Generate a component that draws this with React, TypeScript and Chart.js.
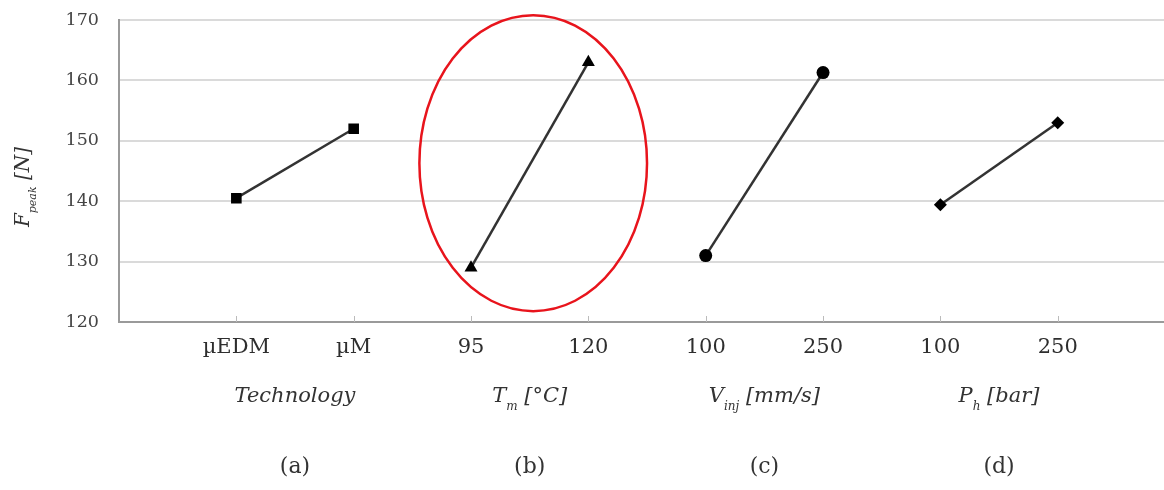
import React, { useEffect, useRef } from 'react';
import { Chart, registerables } from 'chart.js';
Chart.register(...registerables);

// ---- data ----
const tickLabels = ['µEDM', 'µM', '95', '120', '100', '250', '100', '250'];
const tickPositions = [1, 2, 3, 4, 5, 6, 7, 8];
const technologyValues = [140.5, 152.0];
const moldTempValues = [129.0, 163.0];
const injSpeedValues = [131.0, 161.3];
const holdPressureValues = [139.4, 153.0];
const factorNames: [string, string, string][] = [
  ['Technology', '', ''],
  ['T', 'm', ' [°C]'],
  ['V', 'inj', ' [mm/s]'],
  ['P', 'h', ' [bar]'],
];
const panelLabels = ['(a)', '(b)', '(c)', '(d)'];
const yTicks = [120, 130, 140, 150, 160, 170];

const SERIF = '"DejaVu Serif", serif';

function drawSubText(ctx: CanvasRenderingContext2D, parts: [string, string, string], cx: number, cy: number, size: number) {
  const mainFont = `italic ${size}px ${SERIF}`;
  const subFont = `italic ${Math.round(size * 0.55)}px ${SERIF}`;
  ctx.font = mainFont;
  const w1 = ctx.measureText(parts[0]).width;
  const w3 = ctx.measureText(parts[2]).width;
  ctx.font = subFont;
  const w2 = ctx.measureText(parts[1]).width;
  const total = w1 + w2 + w3;
  let x = cx - total / 2;
  ctx.textAlign = 'left';
  ctx.textBaseline = 'middle';
  ctx.font = mainFont;
  ctx.fillText(parts[0], x, cy);
  x += w1;
  ctx.font = subFont;
  ctx.fillText(parts[1], x, cy + size * 0.45);
  x += w2;
  ctx.font = mainFont;
  ctx.fillText(parts[2], x, cy);
}

const overlayPlugin = {
  id: 'overlay',
  afterDraw(chart: any) {
    const ctx: CanvasRenderingContext2D = chart.ctx;
    const xs = chart.scales.x;
    const ys = chart.scales.y;
    const area = chart.chartArea;
    ctx.save();
    // inward tick marks
    ctx.strokeStyle = '#bbbbbb';
    ctx.lineWidth = 1;
    tickPositions.forEach((p) => {
      const px = Math.round(xs.getPixelForValue(p)) + 0.5;
      ctx.beginPath();
      ctx.moveTo(px, area.bottom);
      ctx.lineTo(px, area.bottom - 6);
      ctx.stroke();
    });
    // factor names and panel labels
    ctx.fillStyle = '#333333';
    factorNames.forEach((parts, i) => {
      const cx = xs.getPixelForValue(tickPositions[i * 2] + 0.5);
      drawSubText(ctx, parts, cx, 397, 21);
      ctx.font = `22px ${SERIF}`;
      ctx.textAlign = 'center';
      ctx.textBaseline = 'middle';
      ctx.fillText(panelLabels[i], cx, 467);
    });
    // y axis title
    ctx.save();
    ctx.translate(24, 187);
    ctx.rotate(-Math.PI / 2);
    ctx.fillStyle = '#333333';
    drawSubText(ctx, ['F', 'peak', ' [N]'], 0, 0, 20);
    ctx.restore();
    // highlight ellipse around panel (b)
    const cx = xs.getPixelForValue((tickPositions[2] + tickPositions[3]) / 2 + 0.03);
    const cy = ys.getPixelForValue(146.3);
    const rx = Math.abs(xs.getPixelForValue(0.97) - xs.getPixelForValue(0));
    const ry = Math.abs(ys.getPixelForValue(120) - ys.getPixelForValue(144.5));
    ctx.strokeStyle = '#e8141c';
    ctx.lineWidth = 2.5;
    ctx.beginPath();
    ctx.ellipse(cx, cy, rx, ry, 0, 0, Math.PI * 2);
    ctx.stroke();
    ctx.restore();
  },
};

function series(values: number[], idx: number, style: string, radius: number) {
  return {
    data: values.map((v, k) => ({ x: tickPositions[idx * 2 + k], y: v })),
    borderColor: '#333333',
    borderWidth: 2.5,
    backgroundColor: '#000000',
    pointBackgroundColor: '#000000',
    pointBorderColor: '#000000',
    pointBorderWidth: 0,
    pointStyle: style,
    pointRadius: radius,
    showLine: true,
    fill: false,
  };
}

export default function App() {
  const ref = useRef<HTMLCanvasElement | null>(null);
  useEffect(() => {
    if (!ref.current) return;
    const chart = new Chart(ref.current, {
      type: 'scatter',
      data: {
        datasets: [
          series(technologyValues, 0, 'rect', 7.5),
          series(moldTempValues, 1, 'triangle', 7.5),
          series(injSpeedValues, 2, 'circle', 6.5),
          series(holdPressureValues, 3, 'rectRot', 6.5),
        ] as any,
      },
      options: {
        animation: false,
        responsive: false,
        maintainAspectRatio: false,
        layout: { padding: { top: 20, right: 0, left: 0, bottom: 0 } },
        plugins: { legend: { display: false }, tooltip: { enabled: false } },
        scales: {
          x: {
            type: 'linear',
            min: 0,
            max: 8.91,
            afterBuildTicks: (scale: any) => {
              scale.ticks = tickPositions.map((v) => ({ value: v }));
            },
            afterFit: (scale: any) => {
              scale.height = 168;
              scale.paddingRight = 0;
              scale.paddingLeft = 0;
              scale.paddingTop = 0;
              scale.paddingBottom = 0;
            },
            ticks: {
              autoSkip: false,
              maxRotation: 0,
              padding: 13,
              color: '#2e2e2e',
              font: { family: SERIF, size: 21 },
              callback: (v: any) => {
                const i = tickPositions.indexOf(Number(v));
                return i >= 0 ? tickLabels[i] : '';
              },
            },
            grid: { display: false, drawTicks: false },
            border: { display: true, color: '#9a9a9a', width: 2 },
          },
          y: {
            min: 120,
            max: 170,
            afterBuildTicks: (scale: any) => {
              scale.ticks = yTicks.map((v) => ({ value: v }));
            },
            afterFit: (scale: any) => {
              scale.width = 119;
              scale.paddingTop = 0;
              scale.paddingBottom = 0;
              scale.paddingLeft = 0;
              scale.paddingRight = 0;
            },
            ticks: {
              padding: 20,
              color: '#444444',
              font: { family: SERIF, size: 17.5 },
            },
            grid: { color: '#dadada', lineWidth: 2, drawTicks: false },
            border: { display: true, color: '#9a9a9a', width: 2 },
          },
        },
      },
      plugins: [overlayPlugin],
    });
    return () => chart.destroy();
  }, []);
  return (
    <div style={{ position: 'fixed', left: 0, top: 0, width: 1164, height: 490, overflow: 'hidden', background: '#ffffff' }}>
      <canvas ref={ref} width={1172} height={490} style={{ width: 1172, height: 490, display: 'block' }} />
    </div>
  );
}
